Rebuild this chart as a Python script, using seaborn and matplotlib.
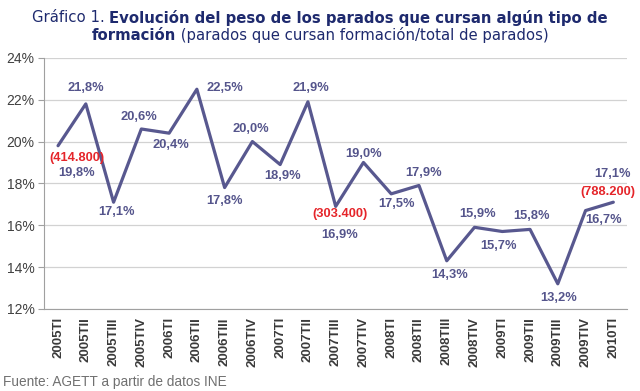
import matplotlib
matplotlib.use("Agg")
import matplotlib.pyplot as plt
import seaborn as sns
import pandas as pd

# data
periods = ["2005TI", "2005TII", "2005TIII", "2005TIV",
           "2006TI", "2006TII", "2006TIII", "2006TIV",
           "2007TI", "2007TII", "2007TIII", "2007TIV",
           "2008TI", "2008TII", "2008TIII", "2008TIV",
           "2009TI", "2009TII", "2009TIII", "2009TIV",
           "2010TI"]
share = [19.8, 21.8, 17.1, 20.6,
         20.4, 22.5, 17.8, 20.0,
         18.9, 21.9, 16.9, 19.0,
         17.5, 17.9, 14.3, 15.9,
         15.7, 15.8, 13.2, 16.7,
         17.1]
# absolute numbers shown in red for some quarters
totals = {"2005TI": "(414.800)", "2007TIII": "(303.400)", "2010TI": "(788.200)"}

# label placement (pixel offsets from the point)
label_off = [(19, -27), (0, 16), (3, -10), (-2, 12),
             (2, -12), (28, 1), (0, -13), (-2, 13),
             (2, -11), (3, 14), (4, -29), (0, 8),
             (5, -10), (5, 12), (3, -14), (3, 13),
             (-4, -15), (1, 13), (1, -14), (18, -9),
             (-1, 28)]
red_off = {"2005TI": (19, -12), "2007TIII": (4, -8), "2010TI": (-5, 10)}

df = pd.DataFrame({"periodo": periods, "valor": share})

sns.set_style("white")
plt.rcParams["font.family"] = ["Liberation Sans", "DejaVu Sans"]

line_col = "#58588F"
lab_col = "#55558C"
title_col = "#1E2A6E"

fig = plt.figure(figsize=(6.4, 3.91), dpi=100)
ax = fig.add_axes([0.069, 0.21, 0.911, 0.642])

sns.lineplot(data=df, x="periodo", y="valor", color=line_col, linewidth=2.3,
             sort=False, ax=ax)

for i, (p, v) in enumerate(zip(periods, share)):
    ax.annotate(f"{v:.1f}%".replace(".", ","), (i, v), xytext=label_off[i],
                textcoords="offset pixels", ha="center", va="center",
                fontsize=9.3, fontweight="bold", color=lab_col)
    if p in totals:
        ax.annotate(totals[p], (i, v), xytext=red_off[p],
                    textcoords="offset pixels", ha="center", va="center",
                    fontsize=9.3, fontweight="bold", color="#E5252A")

ax.set_xlim(-0.5, len(periods) - 0.5)
ax.set_ylim(12, 24)
ax.set_yticks(range(12, 25, 2))
ax.set_yticklabels([f"{t}%" for t in range(12, 25, 2)], fontsize=10, color="#404040")
ax.set_xticks(range(len(periods)))
ax.set_xticklabels(periods, rotation=90, fontsize=9.5, fontweight="bold", color="#3A3A3A")
ax.set_xticks([k + 0.5 for k in range(-1, len(periods))], minor=True)
ax.tick_params(axis="x", which="major", length=0, pad=6)
ax.tick_params(axis="x", which="minor", length=4, color="#A0A0A0", width=0.8)
ax.tick_params(axis="y", length=4, color="#A0A0A0", width=0.8, left=True, pad=3)
ax.set_xlabel("")
ax.set_ylabel("")
ax.grid(axis="y", color="#D2D2D2", linewidth=0.9)
ax.set_axisbelow(True)
for s in ["top", "right"]:
    ax.spines[s].set_visible(False)
for s in ["left", "bottom"]:
    ax.spines[s].set_color("#A0A0A0")
    ax.spines[s].set_linewidth(0.8)

# title with mixed weights, each line centred
renderer = fig.canvas.get_renderer()
title_lines = [
    [("Gráfico 1. ", "normal"),
     ("Evolución del peso de los parados que cursan algún tipo de", "bold")],
    [("formación", "bold"),
     (" (parados que cursan formación/total de parados)", "normal")],
]
for row, parts in zip([0.955, 0.91], title_lines):
    texts = []
    for s, w in parts:
        t = fig.text(0, row, s, fontsize=10.75, fontweight=w, color=title_col,
                     family="DejaVu Sans", va="center", ha="left")
        texts.append(t)
    widths = [t.get_window_extent(renderer).width / fig.bbox.width for t in texts]
    x0 = 0.5 - sum(widths) / 2
    for t, w in zip(texts, widths):
        t.set_x(x0)
        x0 += w

fig.text(0.005, 0.022, "Fuente: AGETT a partir de datos INE", fontsize=9.8,
         color="#707070", ha="left", va="center")

fig.savefig("out.png", dpi=100, facecolor="white")
